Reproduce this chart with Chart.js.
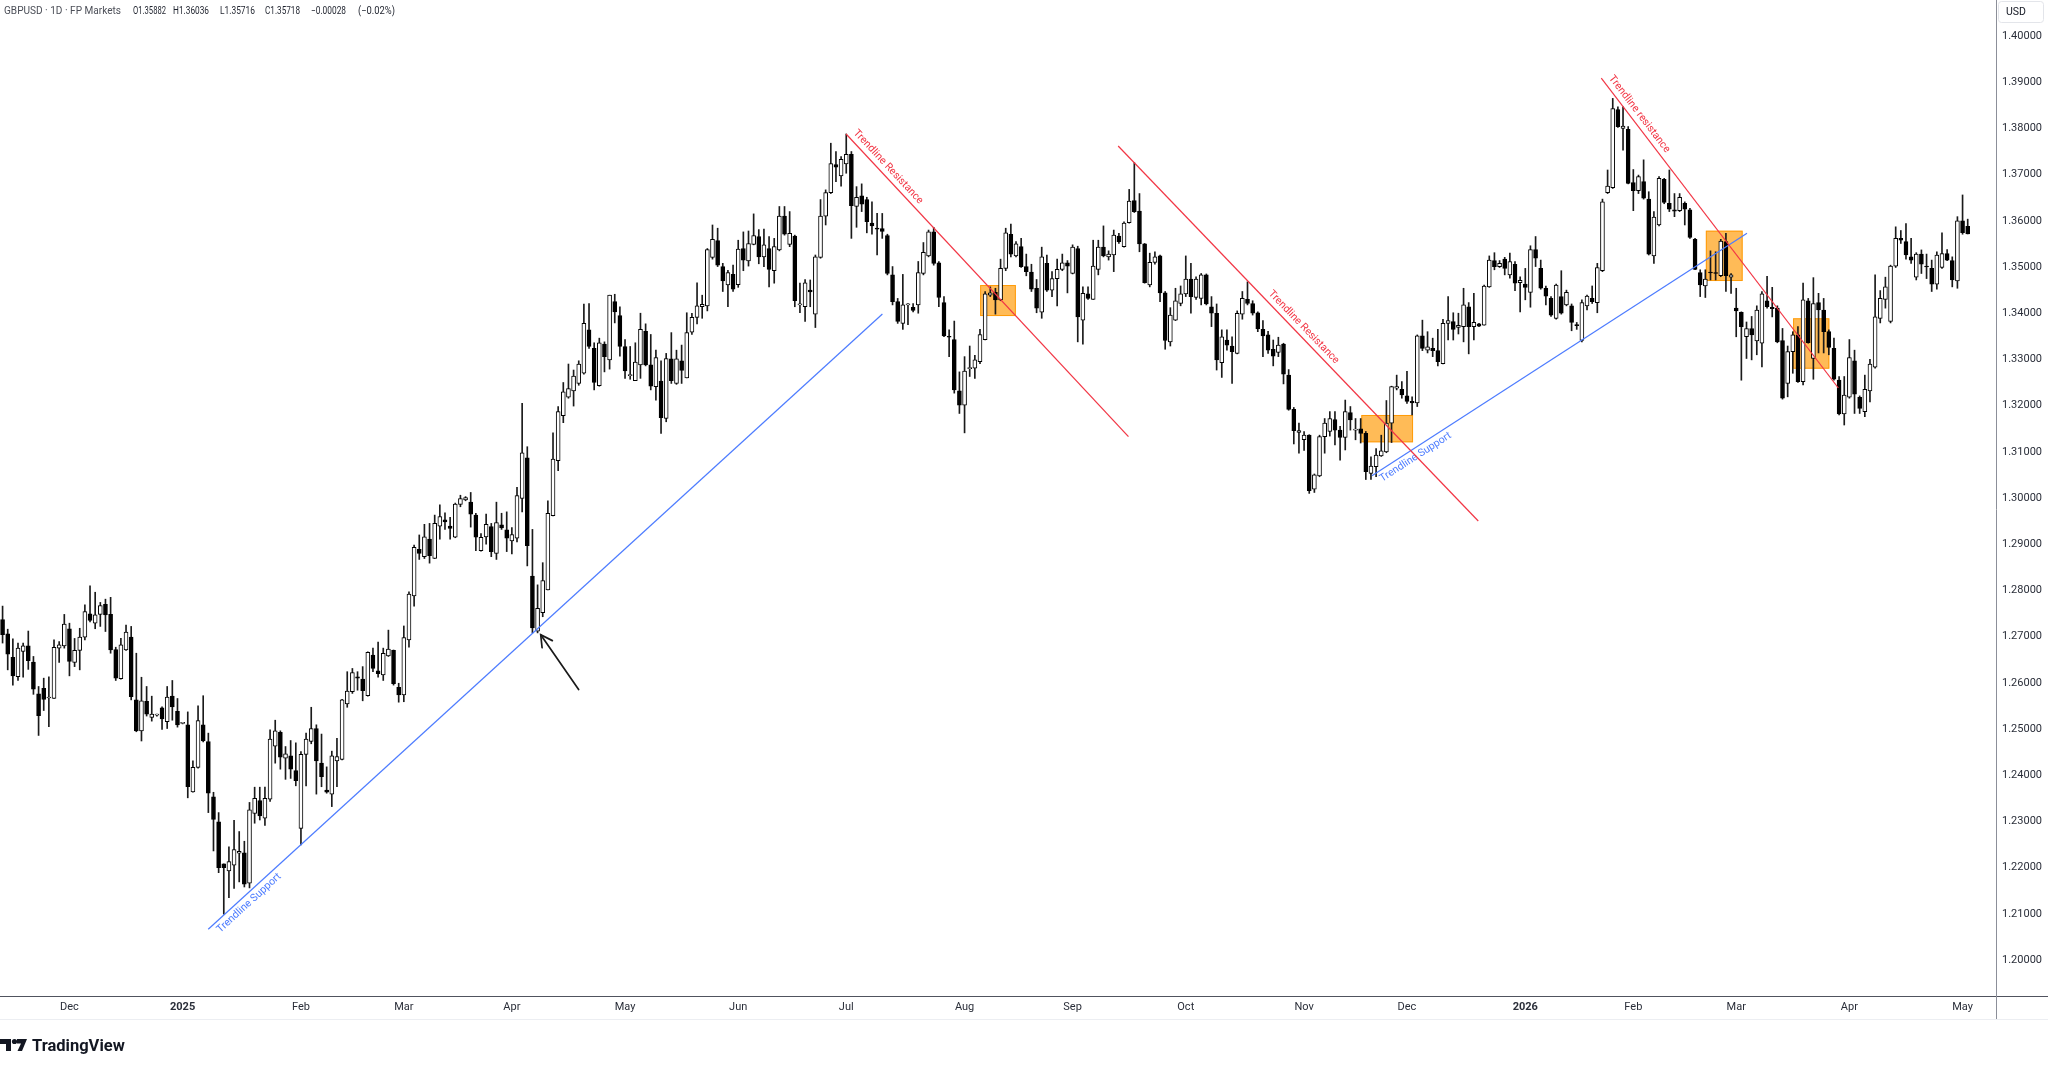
<!DOCTYPE html>
<html>
<head>
<meta charset="utf-8">
<script src="https://cdn.jsdelivr.net/npm/chart.js@4.4.1/dist/chart.umd.min.js"></script>
<style>
html,body{margin:0;padding:0;background:#ffffff;overflow:hidden;}
canvas{display:block;}
</style>
</head>
<body>
<canvas id="chart" width="2048" height="1069" style="width:2048px;height:1069px"></canvas>
<script>
// ---------------- data ----------------
const symbolTitle = 'GBPUSD · 1D · FP Markets';
const firstDate = '2024-11-13';
const closedDays = ['2026-01-01'];
const monthNames = ['Jan','Feb','Mar','Apr','May','Jun','Jul','Aug','Sep','Oct','Nov','Dec'];

const opens = [
1.2737,1.2706,1.2655,1.2613,1.2668,1.2680,1.2645,1.2576,1.2588,1.2567,
1.2566,1.2675,1.2680,1.2717,1.2644,1.2670,1.2699,1.2749,1.2729,1.2748,
1.2770,1.2748,1.2672,1.2609,1.2671,1.2699,1.2563,1.2496,1.2560,1.2525,
1.2530,1.2546,1.2516,1.2571,1.2538,1.2512,1.2509,1.2364,1.2417,1.2509,
1.2473,1.2353,1.2299,1.2208,1.2193,1.2205,1.2231,1.2232,1.2166,1.2317,
1.2345,1.2307,1.2348,1.2463,1.2493,1.2437,1.2442,1.2410,1.2285,1.2445,
1.2473,1.2501,1.2426,1.2368,1.2359,1.2431,1.2434,1.2554,1.2581,1.2613,
1.2608,1.2572,1.2660,1.2626,1.2617,1.2658,1.2670,1.2590,1.2574,1.2693,
1.2788,1.2889,1.2873,1.2911,1.2869,1.2939,1.2953,1.2939,1.2915,1.2986,
1.2996,1.2991,1.2963,1.2886,1.2916,1.2938,1.2880,1.2942,1.2931,1.2907,
1.2913,1.2999,1.3087,1.2831,1.2712,1.2752,1.2801,1.2962,1.3081,1.3178,
1.3218,1.3232,1.3248,1.3270,1.3364,1.3324,1.3243,1.3333,1.3299,1.3425,
1.3395,1.3328,1.3265,1.3254,1.3288,1.3361,1.3288,1.3241,1.3253,1.3172,
1.3301,1.3248,1.3297,1.3260,1.3359,1.3391,1.3414,1.3416,1.3521,1.3557,
1.3501,1.3461,1.3484,1.3462,1.3540,1.3513,1.3549,1.3566,1.3522,1.3540,
1.3492,1.3537,1.3610,1.3549,1.3567,1.3418,1.3414,1.3450,1.3398,1.3521,
1.3610,1.3661,1.3722,1.3697,1.3723,1.3744,1.3631,1.3654,1.3646,1.3595,
1.3584,1.3583,1.3568,1.3483,1.3425,1.3378,1.3418,1.3413,1.3418,1.3486,
1.3524,1.3576,1.3509,1.3423,1.3349,1.3343,1.3232,1.3201,1.3280,1.3281,
1.3295,1.3343,1.3439,1.3445,1.3429,1.3497,1.3571,1.3524,1.3544,1.3501,
1.3489,1.3454,1.3402,1.3508,1.3450,1.3475,1.3495,1.3509,1.3486,1.3540,
1.3385,1.3442,1.3430,1.3495,1.3543,1.3522,1.3526,1.3567,1.3544,1.3596,
1.3644,1.3621,1.3550,1.3461,1.3510,1.3524,1.3444,1.3338,1.3385,1.3421,
1.3442,1.3474,1.3434,1.3432,1.3483,1.3414,1.3400,1.3293,1.3342,1.3329,
1.3313,1.3398,1.3430,1.3421,1.3401,1.3365,1.3353,1.3322,1.3315,1.3333,
1.3266,1.3192,1.3142,1.3126,1.3136,1.3019,1.3048,1.3133,1.3144,1.3170,
1.3147,1.3131,1.3185,1.3147,1.3150,1.3140,1.3053,1.3068,1.3091,1.3100,
1.3162,1.3238,1.3235,1.3221,1.3209,1.3206,1.3351,1.3320,1.3324,1.3319,
1.3291,1.3378,1.3382,1.3369,1.3371,1.3414,1.3371,1.3377,1.3374,1.3457,
1.3514,1.3501,1.3517,1.3483,1.3506,1.3466,1.3463,1.3445,1.3538,1.3497,
1.3454,1.3432,1.3389,1.3436,1.3418,1.3416,1.3374,1.3341,1.3416,1.3432,
1.3423,1.3492,1.3661,1.3672,1.3841,1.3800,1.3798,1.3683,1.3665,1.3685,
1.3647,1.3524,1.3591,1.3690,1.3638,1.3624,1.3622,1.3638,1.3624,1.3560,
1.3488,1.3459,1.3488,1.3488,1.3481,1.3555,1.3478,1.3411,1.3402,1.3349,
1.3367,1.3340,1.3335,1.3427,1.3413,1.3411,1.3341,1.3248,1.3317,1.3353,
1.3252,1.3427,1.3302,1.3423,1.3407,1.3360,1.3324,1.3255,1.3182,1.3218,
1.3297,1.3218,1.3187,1.3232,1.3283,1.3389,1.3430,1.3382,1.3502,1.3562,
1.3555,1.3522,1.3478,1.3528,1.3501,1.3497,1.3463,1.3499,1.3529,1.3514,
1.3470,1.3600,1.35882
];

const highs = [
1.2766,1.2716,1.2695,1.2686,1.2686,1.2712,1.2657,1.2592,1.2610,1.2613,
1.2693,1.2689,1.2748,1.2729,1.2696,1.2718,1.2769,1.2810,1.2796,1.2774,
1.2781,1.2785,1.2677,1.2696,1.2725,1.2722,1.2664,1.2612,1.2592,1.2571,
1.2532,1.2548,1.2592,1.2605,1.2566,1.2513,1.2537,1.2431,1.2550,1.2572,
1.2491,1.2363,1.2319,1.2208,1.2245,1.2302,1.2278,1.2257,1.2341,1.2374,
1.2374,1.2374,1.2498,1.2519,1.2496,1.2462,1.2475,1.2470,1.2451,1.2491,
1.2547,1.2509,1.2489,1.2418,1.2452,1.2480,1.2564,1.2624,1.2631,1.2624,
1.2635,1.2667,1.2675,1.2688,1.2675,1.2714,1.2671,1.2599,1.2723,1.2797,
1.2898,1.2920,1.2943,1.2945,1.2963,1.2985,1.2968,1.2958,1.2989,1.3006,
1.3003,1.3012,1.2967,1.2923,1.2965,1.2945,1.2991,1.2967,1.2970,1.2936,
1.3023,1.3205,1.3111,1.2932,1.2812,1.2860,1.2994,1.3141,1.3198,1.3250,
1.3290,1.3277,1.3297,1.3420,1.3421,1.3336,1.3346,1.3338,1.3439,1.3441,
1.3414,1.3343,1.3328,1.3336,1.3400,1.3377,1.3354,1.3320,1.3297,1.3313,
1.3358,1.3320,1.3331,1.3401,1.3400,1.3466,1.3439,1.3540,1.3591,1.3584,
1.3508,1.3493,1.3504,1.3558,1.3576,1.3578,1.3615,1.3581,1.3582,1.3566,
1.3562,1.3631,1.3631,1.3620,1.3569,1.3465,1.3473,1.3472,1.3526,1.3646,
1.3667,1.3768,1.3750,1.3739,1.3788,1.3750,1.3674,1.3680,1.3651,1.3641,
1.3616,1.3616,1.3571,1.3501,1.3432,1.3484,1.3421,1.3421,1.3512,1.3553,
1.3580,1.3586,1.3512,1.3436,1.3364,1.3383,1.3273,1.3306,1.3329,1.3309,
1.3365,1.3447,1.3457,1.3454,1.3517,1.3584,1.3593,1.3555,1.3562,1.3528,
1.3506,1.3473,1.3543,1.3526,1.3490,1.3517,1.3528,1.3514,1.3548,1.3545,
1.3457,1.3457,1.3558,1.3558,1.3589,1.3535,1.3580,1.3573,1.3598,1.3668,
1.3726,1.3659,1.3551,1.3530,1.3533,1.3526,1.3447,1.3412,1.3454,1.3459,
1.3524,1.3508,1.3479,1.3486,1.3485,1.3436,1.3420,1.3364,1.3364,1.3349,
1.3405,1.3447,1.3468,1.3427,1.3403,1.3384,1.3361,1.3342,1.3348,1.3335,
1.3278,1.3196,1.3162,1.3144,1.3137,1.3052,1.3136,1.3172,1.3187,1.3187,
1.3155,1.3212,1.3198,1.3172,1.3172,1.3144,1.3089,1.3107,1.3136,1.3211,
1.3242,1.3266,1.3252,1.3274,1.3219,1.3353,1.3385,1.3360,1.3346,1.3365,
1.3387,1.3436,1.3401,1.3400,1.3454,1.3423,1.3443,1.3378,1.3461,1.3524,
1.3531,1.3514,1.3521,1.3530,1.3512,1.3479,1.3497,1.3546,1.3566,1.3515,
1.3459,1.3436,1.3463,1.3492,1.3450,1.3420,1.3380,1.3429,1.3439,1.3459,
1.3508,1.3647,1.3710,1.3865,1.3847,1.3847,1.3804,1.3711,1.3699,1.3732,
1.3663,1.3620,1.3696,1.3692,1.3710,1.3659,1.3659,1.3641,1.3627,1.3562,
1.3494,1.3494,1.3535,1.3533,1.3560,1.3573,1.3486,1.3454,1.3403,1.3381,
1.3393,1.3416,1.3447,1.3480,1.3456,1.3416,1.3367,1.3329,1.3360,1.3371,
1.3465,1.3432,1.3477,1.3443,1.3432,1.3364,1.3346,1.3263,1.3263,1.3343,
1.3320,1.3221,1.3266,1.3300,1.3483,1.3449,1.3478,1.3504,1.3587,1.3579,
1.3594,1.3562,1.3531,1.3537,1.3528,1.3515,1.3533,1.3574,1.3538,1.3522,
1.3609,1.3656,1.36036
];

const lows = [
1.2686,1.2628,1.2595,1.2605,1.2612,1.2629,1.2575,1.2486,1.2540,1.2505,
1.2566,1.2644,1.2675,1.2615,1.2635,1.2628,1.2693,1.2732,1.2717,1.2722,
1.2711,1.2664,1.2605,1.2608,1.2670,1.2563,1.2494,1.2474,1.2528,1.2517,
1.2528,1.2499,1.2501,1.2519,1.2504,1.2511,1.2351,1.2363,1.2415,1.2472,
1.2319,1.2236,1.2189,1.2099,1.2135,1.2155,1.2169,1.2158,1.2156,1.2296,
1.2303,1.2291,1.2343,1.2426,1.2413,1.2391,1.2393,1.2377,1.2249,1.2377,
1.2468,1.2359,1.2375,1.2361,1.2332,1.2375,1.2433,1.2547,1.2577,1.2584,
1.2561,1.2571,1.2624,1.2612,1.2605,1.2657,1.2595,1.2558,1.2559,1.2677,
1.2766,1.2867,1.2869,1.2859,1.2869,1.2911,1.2932,1.2911,1.2914,1.2981,
1.2994,1.2937,1.2886,1.2885,1.2900,1.2873,1.2867,1.2932,1.2884,1.2879,
1.2905,1.2970,1.2853,1.2708,1.2708,1.2743,1.2801,1.2961,1.3059,1.3163,
1.3216,1.3199,1.3244,1.3268,1.3324,1.3234,1.3242,1.3273,1.3279,1.3379,
1.3307,1.3259,1.3257,1.3254,1.3259,1.3286,1.3234,1.3212,1.3140,1.3165,
1.3248,1.3246,1.3248,1.3260,1.3354,1.3377,1.3389,1.3405,1.3517,1.3501,
1.3447,1.3414,1.3447,1.3456,1.3492,1.3502,1.3548,1.3507,1.3501,1.3457,
1.3465,1.3535,1.3569,1.3544,1.3414,1.3401,1.3382,1.3414,1.3369,1.3519,
1.3591,1.3659,1.3685,1.3675,1.3703,1.3562,1.3586,1.3620,1.3574,1.3571,
1.3526,1.3562,1.3483,1.3418,1.3378,1.3365,1.3375,1.3403,1.3400,1.3483,
1.3522,1.3504,1.3414,1.3349,1.3306,1.3227,1.3183,1.3141,1.3263,1.3259,
1.3291,1.3342,1.3436,1.3398,1.3427,1.3492,1.3522,1.3522,1.3499,1.3481,
1.3447,1.3401,1.3389,1.3447,1.3436,1.3416,1.3492,1.3444,1.3485,1.3338,
1.3333,1.3430,1.3430,1.3483,1.3522,1.3515,1.3490,1.3551,1.3543,1.3595,
1.3618,1.3533,1.3465,1.3457,1.3506,1.3425,1.3322,1.3329,1.3384,1.3416,
1.3436,1.3400,1.3430,1.3418,1.3418,1.3371,1.3277,1.3261,1.3320,1.3248,
1.3312,1.3387,1.3418,1.3396,1.3360,1.3306,1.3313,1.3286,1.3306,1.3247,
1.3190,1.3117,1.3097,1.3103,1.3010,1.3012,1.3046,1.3097,1.3134,1.3115,
1.3082,1.3104,1.3147,1.3126,1.3119,1.3040,1.3040,1.3046,1.3090,1.3098,
1.3120,1.3234,1.3216,1.3205,1.3180,1.3198,1.3319,1.3314,1.3306,1.3286,
1.3290,1.3342,1.3342,1.3355,1.3338,1.3312,1.3342,1.3371,1.3374,1.3456,
1.3494,1.3499,1.3483,1.3476,1.3449,1.3403,1.3429,1.3413,1.3501,1.3452,
1.3418,1.3393,1.3387,1.3398,1.3416,1.3362,1.3365,1.3338,1.3407,1.3421,
1.3401,1.3490,1.3659,1.3670,1.3802,1.3753,1.3680,1.3622,1.3659,1.3647,
1.3526,1.3508,1.3589,1.3637,1.3620,1.3609,1.3620,1.3591,1.3562,1.3494,
1.3436,1.3434,1.3472,1.3472,1.3479,1.3447,1.3443,1.3349,1.3255,1.3302,
1.3299,1.3310,1.3284,1.3411,1.3392,1.3336,1.3214,1.3219,1.3270,1.3250,
1.3245,1.3335,1.3257,1.3314,1.3314,1.3310,1.3255,1.3180,1.3158,1.3216,
1.3183,1.3183,1.3176,1.3208,1.3281,1.3379,1.3411,1.3379,1.3499,1.3551,
1.3517,1.3508,1.3472,1.3486,1.3475,1.3447,1.3452,1.3497,1.3514,1.3457,
1.3454,1.3571,1.35716
];

const closes = [
1.2704,1.2662,1.2615,1.2675,1.2680,1.2648,1.2586,1.2529,1.2564,1.2569,
1.2677,1.2682,1.2727,1.2646,1.2670,1.2699,1.2754,1.2735,1.2747,1.2767,
1.2747,1.2671,1.2610,1.2682,1.2710,1.2570,1.2496,1.2561,1.2532,1.2532,
1.2530,1.2522,1.2569,1.2548,1.2509,1.2512,1.2375,1.2417,1.2518,1.2474,
1.2361,1.2304,1.2200,1.2200,1.2213,1.2239,1.2235,1.2164,1.2325,1.2350,
1.2312,1.2350,1.2478,1.2496,1.2439,1.2446,1.2413,1.2388,1.2445,1.2478,
1.2501,1.2431,1.2397,1.2363,1.2442,1.2440,1.2563,1.2582,1.2622,1.2610,
1.2583,1.2666,1.2631,1.2620,1.2664,1.2673,1.2598,1.2574,1.2698,1.2792,
1.2893,1.2880,1.2916,1.2875,1.2945,1.2960,1.2948,1.2934,1.2987,1.2999,
1.3001,1.2965,1.2915,1.2915,1.2943,1.2884,1.2947,1.2935,1.2913,1.2921,
1.3005,1.3098,1.2897,1.2719,1.2761,1.2821,1.2967,1.3084,1.3187,1.3230,
1.3237,1.3264,1.3290,1.3378,1.3328,1.3250,1.3336,1.3306,1.3439,1.3403,
1.3328,1.3275,1.3266,1.3294,1.3365,1.3288,1.3242,1.3304,1.3174,1.3302,
1.3254,1.3301,1.3276,1.3358,1.3391,1.3416,1.3419,1.3538,1.3560,1.3504,
1.3470,1.3488,1.3452,1.3539,1.3515,1.3551,1.3568,1.3522,1.3548,1.3495,
1.3544,1.3610,1.3571,1.3573,1.3427,1.3419,1.3466,1.3446,1.3522,1.3610,
1.3661,1.3724,1.3716,1.3733,1.3744,1.3633,1.3651,1.3636,1.3598,1.3589,
1.3582,1.3577,1.3486,1.3425,1.3382,1.3418,1.3419,1.3406,1.3488,1.3532,
1.3576,1.3508,1.3434,1.3351,1.3348,1.3234,1.3201,1.3275,1.3281,1.3299,
1.3354,1.3442,1.3444,1.3429,1.3497,1.3574,1.3528,1.3550,1.3501,1.3490,
1.3452,1.3411,1.3522,1.3450,1.3475,1.3495,1.3509,1.3502,1.3543,1.3392,
1.3443,1.3432,1.3502,1.3543,1.3524,1.3528,1.3569,1.3555,1.3595,1.3643,
1.3620,1.3550,1.3466,1.3510,1.3522,1.3444,1.3341,1.3396,1.3427,1.3442,
1.3474,1.3436,1.3474,1.3483,1.3420,1.3400,1.3299,1.3349,1.3331,1.3317,
1.3400,1.3432,1.3421,1.3400,1.3366,1.3351,1.3320,1.3307,1.3331,1.3268,
1.3192,1.3146,1.3146,1.3136,1.3016,1.3050,1.3133,1.3162,1.3172,1.3147,
1.3131,1.3187,1.3169,1.3149,1.3140,1.3057,1.3069,1.3093,1.3102,1.3162,
1.3241,1.3241,1.3223,1.3209,1.3206,1.3351,1.3324,1.3327,1.3319,1.3295,
1.3378,1.3384,1.3365,1.3374,1.3418,1.3371,1.3380,1.3372,1.3459,1.3515,
1.3501,1.3508,1.3497,1.3512,1.3465,1.3471,1.3456,1.3538,1.3519,1.3454,
1.3437,1.3396,1.3461,1.3400,1.3445,1.3380,1.3373,1.3423,1.3437,1.3425,
1.3499,1.3641,1.3675,1.3843,1.3804,1.3805,1.3681,1.3665,1.3696,1.3649,
1.3528,1.3608,1.3692,1.3640,1.3625,1.3621,1.3651,1.3625,1.3564,1.3495,
1.3461,1.3474,1.3487,1.3486,1.3556,1.3481,1.3483,1.3405,1.3371,1.3367,
1.3353,1.3407,1.3442,1.3414,1.3410,1.3338,1.3216,1.3317,1.3353,1.3252,
1.3429,1.3336,1.3421,1.3407,1.3360,1.3326,1.3257,1.3182,1.3223,1.3304,
1.3225,1.3194,1.3235,1.3290,1.3392,1.3432,1.3457,1.3502,1.3562,1.3558,
1.3526,1.3515,1.3528,1.3506,1.3500,1.3463,1.3526,1.3529,1.3515,1.3472,
1.3600,1.35746,1.35718
];

// price axis
const priceMin = 1.1922;
const priceMax = 1.4078;
const priceStep = 0.01;
const emptyBarsRight = 5;

// drawings (bar index, price)
const supportLines = [
  {from:[39.98,1.20665], to:[171.03,1.33983], text:'Trendline Support', t:0.007},
  {from:[266.19,1.30483], to:[339.10,1.35729], text:'Trendline Support', t:0.012}
];
const resistanceLines = [
  {from:[163.97,1.37879], to:[218.86,1.31327], text:'Trendline Resistance', t:0.01},
  {from:[216.86,1.37619], to:[286.86,1.29502], text:'Trendline Resistance', t:0.405},
  {from:[310.77,1.39091], to:[356.85,1.32381], text:'Trendline resistance', t:0.012}
];
const zones = [
  {from:[190.03,1.34610], to:[196.97,1.33939]},
  {from:[264.13,1.31797], to:[274.18,1.31206]},
  {from:[331.10,1.35786], to:[338.25,1.34697]},
  {from:[348.05,1.33890], to:[355.10,1.32799]}
];
const arrowMark = {from:[111.98,1.25853], to:[104.61,1.27039]};

// ---------------- build ----------------
const FONT = "Roboto, 'Liberation Sans', Arial, sans-serif";
const dates = [];
{
  const d = new Date(firstDate + 'T00:00:00Z');
  while (dates.length < opens.length) {
    const wd = d.getUTCDay();
    const iso = d.toISOString().slice(0,10);
    if (wd !== 0 && wd !== 6 && !closedDays.includes(iso)) dates.push(new Date(d));
    d.setUTCDate(d.getUTCDate() + 1);
  }
}
const labels = dates.map(d => d.toISOString().slice(0,10));
for (let k = 0; k < emptyBarsRight; k++) labels.push('');
const tickText = labels.map((_, i) => {
  if (i === 0 || i >= dates.length) return null;
  const m = dates[i].getUTCMonth();
  if (m !== dates[i-1].getUTCMonth()) return m === 0 ? String(dates[i].getUTCFullYear()) : monthNames[m];
  return null;
});

const bodies = opens.map((o, i) => [Math.min(o, closes[i]), Math.max(o, closes[i])]);
const wicks = opens.map((o, i) => [Math.min(lows[i], o, closes[i]), Math.max(highs[i], o, closes[i])]);
const bodyColors = opens.map((o, i) => closes[i] >= o ? '#ffffff' : '#000000');

function fmtSigned(v, dp) {
  const s = Math.abs(v).toFixed(dp);
  return (v < 0 ? '\u2212' : '+') + s;
}

const overlay = {
  id: 'overlay',
  beforeDraw(chart) {
    const c = chart.ctx;
    c.save();
    c.fillStyle = '#ffffff';
    c.fillRect(0, 0, chart.width, chart.height);
    c.restore();
  },
  beforeDatasetsDraw(chart) {
    const c = chart.ctx, xs = chart.scales.x, ys = chart.scales.y;
    c.save();
    zones.forEach(z => {
      const x0 = xs.getPixelForValue(z.from[0]), x1 = xs.getPixelForValue(z.to[0]);
      const y0 = ys.getPixelForValue(z.from[1]), y1 = ys.getPixelForValue(z.to[1]);
      c.fillStyle = 'rgba(255,152,0,0.66)';
      c.fillRect(x0, y0, x1 - x0, y1 - y0);
      c.strokeStyle = 'rgba(255,152,0,0.9)';
      c.lineWidth = 1;
      c.strokeRect(x0 + 0.5, y0 + 0.5, x1 - x0 - 1, y1 - y0 - 1);
    });
    c.restore();
  },
  afterDatasetsDraw(chart) {
    const c = chart.ctx, xs = chart.scales.x, ys = chart.scales.y;
    const drawLine = (ln, color, below) => {
      const x1 = xs.getPixelForValue(ln.from[0]), y1 = ys.getPixelForValue(ln.from[1]);
      const x2 = xs.getPixelForValue(ln.to[0]), y2 = ys.getPixelForValue(ln.to[1]);
      c.save();
      c.strokeStyle = color;
      c.lineWidth = 1.2;
      c.beginPath(); c.moveTo(x1, y1); c.lineTo(x2, y2); c.stroke();
      const ang = Math.atan2(y2 - y1, x2 - x1);
      const px = x1 + (x2 - x1) * ln.t, py = y1 + (y2 - y1) * ln.t;
      c.translate(px, py); c.rotate(ang);
      c.fillStyle = color;
      c.font = '10.5px ' + FONT;
      c.textAlign = 'left';
      if (below) { c.textBaseline = 'top'; c.fillText(ln.text, 0, 3); }
      else { c.textBaseline = 'bottom'; c.fillText(ln.text, 0, -3); }
      c.restore();
    };
    supportLines.forEach(l => drawLine(l, '#4d7cff', true));
    resistanceLines.forEach(l => drawLine(l, '#f23645', false));
    // arrow
    const ax1 = xs.getPixelForValue(arrowMark.from[0]), ay1 = ys.getPixelForValue(arrowMark.from[1]);
    const ax2 = xs.getPixelForValue(arrowMark.to[0]), ay2 = ys.getPixelForValue(arrowMark.to[1]);
    const a = Math.atan2(ay1 - ay2, ax1 - ax2);
    c.save();
    c.strokeStyle = '#1a1a1a'; c.lineWidth = 1.7; c.lineCap = 'round';
    c.beginPath(); c.moveTo(ax1, ay1); c.lineTo(ax2, ay2); c.stroke();
    c.beginPath();
    c.moveTo(ax2 + 13 * Math.cos(a + 0.5), ay2 + 13 * Math.sin(a + 0.5));
    c.lineTo(ax2, ay2);
    c.lineTo(ax2 + 13 * Math.cos(a - 0.5), ay2 + 13 * Math.sin(a - 0.5));
    c.stroke();
    c.restore();
  },
  afterDraw(chart) {
    const c = chart.ctx, area = chart.chartArea, W = chart.width;
    c.save();
    // axis borders
    c.strokeStyle = '#50535e'; c.lineWidth = 1;
    c.beginPath(); c.moveTo(0, area.bottom + 0.5); c.lineTo(W, area.bottom + 0.5); c.stroke();
    c.strokeStyle = '#8c8f99';
    c.beginPath(); c.moveTo(area.right + 0.5, 0); c.lineTo(area.right + 0.5, area.bottom + 23); c.stroke();
    c.strokeStyle = '#eceef2';
    c.beginPath(); c.moveTo(0, area.bottom + 23.5); c.lineTo(W, area.bottom + 23.5); c.stroke();
    // USD box
    c.strokeStyle = '#e3e5ea'; c.fillStyle = '#ffffff';
    c.beginPath();
    if (c.roundRect) c.roundRect(area.right + 2.5, 1.5, 45, 21, 3); else c.rect(area.right + 2.5, 1.5, 45, 21);
    c.fill(); c.stroke();
    c.fillStyle = '#131722'; c.font = '10.5px ' + FONT; c.textBaseline = 'middle'; c.textAlign = 'left';
    c.fillText('USD', area.right + 10, 12.5);
    // header
    const n = closes.length;
    const chg = closes[n-1] - closes[n-2];
    const pct = chg / closes[n-2] * 100;
    const segs = [
      [symbolTitle, 4, 117, '#4c4f58'],
      ['O' + opens[n-1].toFixed(5), 133, 33, '#1e222d'],
      ['H' + highs[n-1].toFixed(5), 173, 36, '#1e222d'],
      ['L' + lows[n-1].toFixed(5), 220, 35, '#1e222d'],
      ['C' + closes[n-1].toFixed(5), 265, 35, '#1e222d'],
      [fmtSigned(chg, 5), 311, 35, '#1e222d'],
      ['(' + fmtSigned(pct, 2) + '%)', 358, 37, '#1e222d']
    ];
    c.font = '10.5px ' + FONT; c.textBaseline = 'middle';
    segs.forEach(s => { c.fillStyle = s[3]; c.fillText(s[0], s[1], 11, s[2]); });
    // footer logo
    const fy = 1039;
    c.fillStyle = '#131722';
    c.fillRect(0, fy, 11, 5);
    c.fillRect(6, fy, 5, 12);
    c.beginPath(); c.arc(14.5, fy + 2.5, 2.6, 0, Math.PI * 2); c.fill();
    c.beginPath();
    c.moveTo(17, fy); c.lineTo(27, fy); c.lineTo(22, fy + 12); c.lineTo(17.5, fy + 12); c.lineTo(21, fy + 4.5); c.lineTo(17, fy + 4.5);
    c.closePath(); c.fill();
    c.font = 'bold 16.5px ' + FONT; c.textBaseline = 'alphabetic';
    c.fillText('TradingView', 32, fy + 12);
    c.restore();
  }
};

new Chart(document.getElementById('chart'), {
  type: 'bar',
  data: {
    labels: labels,
    datasets: [
      {
        label: 'bodies', data: bodies, order: 0, grouped: false,
        backgroundColor: bodyColors, borderColor: '#000000', borderWidth: 1,
        borderSkipped: false, barThickness: 4, minBarLength: 1
      },
      {
        label: 'wicks', data: wicks, order: 1, grouped: false,
        backgroundColor: '#1a1a1a', borderWidth: 0, barThickness: 1
      }
    ]
  },
  options: {
    responsive: false,
    animation: false,
    devicePixelRatio: 1,
    layout: { padding: 0 },
    plugins: { legend: { display: false }, tooltip: { enabled: false } },
    scales: {
      x: {
        type: 'category', offset: true,
        grid: { display: false, drawTicks: false },
        border: { display: false },
        ticks: {
          autoSkip: false, maxRotation: 0, minRotation: 0, padding: 5,
          color: '#2a2e39',
          font: (ctx) => ({ family: FONT, size: 11, weight: (ctx.tick && /^\d{4}$/.test(ctx.tick.label)) ? 'bold' : 'normal' }),
          callback: function (v, i) { return tickText[i]; }
        },
        afterFit: (s) => { s.height = 73; s.paddingLeft = 0; s.paddingRight = 0; }
      },
      y: {
        type: 'linear', position: 'right', min: priceMin, max: priceMax,
        grid: { display: false, drawTicks: false },
        border: { display: false },
        ticks: {
          stepSize: priceStep, maxTicksLimit: 40, includeBounds: false, padding: 6,
          color: '#2a2e39', font: { family: FONT, size: 11 },
          callback: (v) => {
            const r = Math.round(v / priceStep) * priceStep;
            return Math.abs(v - r) < 1e-7 ? v.toFixed(5) : null;
          }
        },
        afterFit: (s) => { s.width = 52; s.paddingTop = 0; s.paddingBottom = 0; }
      }
    }
  },
  plugins: [overlay]
});
</script>
</body>
</html>
